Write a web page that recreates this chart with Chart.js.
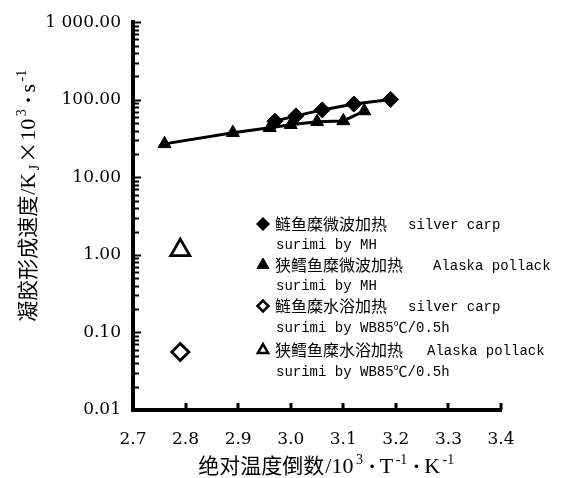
<!DOCTYPE html>
<html><head><meta charset="utf-8">
<script src="https://cdn.jsdelivr.net/npm/chart.js@4.4.1/dist/chart.umd.min.js"></script>
<style>html,body{margin:0;padding:0;background:#fff}#wrap{width:566px;height:478px;position:relative}</style>
</head><body><div id="wrap"><canvas id="c" width="566" height="478"></canvas></div>
<script>
// ---- data ----
const silverMH_x = [2.97, 3.01, 3.06, 3.12, 3.19];
const silverMH_y = [53, 62, 74, 88, 101];
const pollackMH_x = [2.76, 2.89, 2.96, 3.00, 3.05, 3.10, 3.14];
const pollackMH_y = [27, 37.6, 43.5, 47.6, 52, 53.4, 71.6];
const silverWB_x = [2.79];
const silverWB_y = [0.056];
const pollackWB_x = [2.79];
const pollackWB_y = [1.15];

const xTickValues = [2.7, 2.8, 2.9, 3.0, 3.1, 3.2, 3.3, 3.4];
const xTickLabels = ['2.7', '2.8', '2.9', '3.0', '3.1', '3.2', '3.3', '3.4'];
const yTickValues = [0.01, 0.1, 1, 10, 100, 1000];
const yTickLabels = ['0.01', '0.10', '1.00', '10.00', '100.00', '1 000.00'];

const legendCn = ['鲢鱼糜微波加热', '狭鳕鱼糜微波加热', '鲢鱼糜水浴加热', '狭鳕鱼糜水浴加热'];
const legendEn = ['silver carp', 'Alaska pollack', 'silver carp', 'Alaska pollack'];
const legendEn2 = ['surimi by MH', 'surimi by MH', 'surimi by WB85℃/0.5h', 'surimi by WB85℃/0.5h'];

const xTitleParts = ['绝对温度倒数', '/10', '3', '·', 'T', '-1', '·', 'K', '-1'];
const yTitleParts = ['凝胶形成速度', '/K', 'J', '×', '10', '3', '·', 's', '-1'];

// ---- styling helpers ----
const CJK = '"Noto Sans CJK SC"';
const SER = '"Liberation Serif", "DejaVu Serif", serif';
const pts = (xs, ys) => xs.map((x, i) => ({x, y: ys[i]}));

function richSegs(parts, kinds) {
  // kinds: 'c' cjk, 'l' latin, 'u' superscript, 'd' subscript, 'm' middle dot, 'x' times
  return parts.map((t, i) => {
    const k = kinds[i];
    if (k === 'c') return {t, f: '21px ' + CJK, dy: 0, pl: 0, pr: 1};
    if (k === 'l') return {t, f: '22px ' + SER, dy: 0, pl: 0, pr: 1.5};
    if (k === 'u') return {t, f: '14px ' + SER, dy: -9, pl: 1, pr: 1.5};
    if (k === 'd') return {t, f: '14px ' + SER, dy: 4, pl: 1, pr: 2};
    if (k === 'm') return {t, f: 'bold 22px ' + SER, dy: 0, pl: 4, pr: 4};
    if (k === 'x') return {t, f: '21px ' + CJK, dy: 0, pl: 0, pr: 1};
  });
}
function drawRich(ctx, segs, cx, baseY) {
  let total = 0;
  segs.forEach(s => { ctx.font = s.f; s.w = ctx.measureText(s.t).width; total += s.pl + s.w + s.pr; });
  let x = cx - total / 2;
  ctx.textAlign = 'left';
  ctx.textBaseline = 'alphabetic';
  segs.forEach(s => { ctx.font = s.f; x += s.pl; ctx.fillText(s.t, x, baseY + s.dy); x += s.w + s.pr; });
}

const decoPlugin = {
  id: 'deco',
  afterDraw(chart) {
    const ctx = chart.ctx;
    const xs = chart.scales.x, ys = chart.scales.y;
    const ca = chart.chartArea;
    ctx.save();
    ctx.strokeStyle = '#000';
    ctx.fillStyle = '#000';
    // inward x ticks
    ctx.lineWidth = 3;
    xTickValues.slice(1).forEach(v => {
      const px = Math.round(xs.getPixelForValue(v));
      ctx.beginPath(); ctx.moveTo(px, ca.bottom); ctx.lineTo(px, ca.bottom - 7); ctx.stroke();
    });
    // inward y log ticks
    ctx.lineWidth = 2;
    yTickValues.forEach((d, i) => {
      const ms = i < yTickValues.length - 1 ? [1, 2, 3, 4, 5, 6, 7, 8, 9] : [1];
      ms.forEach(m => {
        const py = Math.round(ys.getPixelForValue(m * d)) + 0.5;
        ctx.beginPath(); ctx.moveTo(ca.left, py); ctx.lineTo(ca.left + (m === 1 ? 8 : 6), py); ctx.stroke();
      });
    });
    // legend
    const styles = [
      {pointStyle: 'rectRot', radius: 6.5, bg: '#000', borderWidth: 1},
      {pointStyle: 'triangle', radius: 7, bg: '#000', borderWidth: 1},
      {pointStyle: 'rectRot', radius: 5.5, bg: '#fff', borderWidth: 2.5},
      {pointStyle: 'triangle', radius: 6, bg: '#fff', borderWidth: 2.5}
    ];
    const rowY = [[224, 244], [265, 285], [306, 327], [350, 371]];
    const enX = [408, 433, 408, 427];
    legendCn.forEach((cn, i) => {
      ctx.fillStyle = styles[i].bg;
      ctx.strokeStyle = '#000';
      ctx.lineWidth = styles[i].borderWidth;
      Chart.helpers.drawPoint(ctx, styles[i], 263, rowY[i][0]);
      ctx.fillStyle = '#000';
      ctx.textBaseline = 'middle';
      ctx.textAlign = 'left';
      ctx.font = '16px ' + CJK;
      ctx.fillText(cn, 275, rowY[i][0]);
      ctx.font = '14px "Liberation Mono", ' + CJK;
      ctx.fillText(legendEn[i], enX[i], rowY[i][0] + 1);
      ctx.fillText(legendEn2[i], 276, rowY[i][1] + 1);
    });
    // axis titles
    ctx.fillStyle = '#000';
    drawRich(ctx, richSegs(xTitleParts, ['c', 'l', 'u', 'm', 'l', 'u', 'm', 'l', 'u']), 327, 473);
    ctx.save();
    ctx.rotate(-Math.PI / 2);
    // rotated frame: local x = -screenY, local y = screenX
    drawRich(ctx, richSegs(yTitleParts, ['c', 'l', 'd', 'x', 'l', 'u', 'm', 'l', 'u']), -195, 35);
    ctx.restore();
    ctx.restore();
  }
};

new Chart(document.getElementById('c'), {
  type: 'scatter',
  data: {
    datasets: [
      {label: legendCn[0], data: pts(silverMH_x, silverMH_y), showLine: true, borderColor: '#000', borderWidth: 3,
       pointStyle: 'rectRot', pointRadius: 8, pointBackgroundColor: '#000', pointBorderColor: '#000', pointBorderWidth: 1},
      {label: legendCn[1], data: pts(pollackMH_x, pollackMH_y), showLine: true, borderColor: '#000', borderWidth: 3,
       pointStyle: 'triangle', pointRadius: 7.5, pointBackgroundColor: '#000', pointBorderColor: '#000', pointBorderWidth: 1},
      {label: legendCn[2], data: pts(silverWB_x, silverWB_y), showLine: false,
       pointStyle: 'rectRot', pointRadius: 8.5, pointBackgroundColor: '#fff', pointBorderColor: '#000', pointBorderWidth: 2.8},
      {label: legendCn[3], data: pts(pollackWB_x, pollackWB_y), showLine: false,
       pointStyle: 'triangle', pointRadius: 11, pointBackgroundColor: '#fff', pointBorderColor: '#000', pointBorderWidth: 2.8}
    ]
  },
  options: {
    responsive: false,
    animation: false,
    events: [],
    layout: {padding: {top: 17, right: 65, bottom: 0, left: 0}},
    plugins: {legend: {display: false}, tooltip: {enabled: false}},
    scales: {
      x: {
        type: 'linear', min: 2.7, max: 3.4,
        afterBuildTicks: s => { s.ticks = xTickValues.map(v => ({value: v})); },
        afterFit: s => { s.height = 68; },
        ticks: {callback: (v, i) => xTickLabels[i], font: {family: 'DejaVu Serif', size: 17}, color: '#000', padding: 19, autoSkip: false, maxRotation: 0},
        grid: {display: true, drawOnChartArea: false, drawTicks: false},
        border: {display: true, color: '#000', width: 4}
      },
      y: {
        type: 'logarithmic', min: 0.01, max: 1000,
        afterBuildTicks: s => { s.ticks = yTickValues.map(v => ({value: v, major: true})); },
        afterFit: s => { s.width = 133; },
        ticks: {callback: (v, i) => yTickLabels[i], font: {family: 'DejaVu Serif', size: 17}, color: '#000', padding: 12, autoSkip: false},
        grid: {display: true, drawOnChartArea: false, drawTicks: false},
        border: {display: true, color: '#000', width: 4}
      }
    }
  },
  plugins: [decoPlugin]
});
</script>
</body></html>
